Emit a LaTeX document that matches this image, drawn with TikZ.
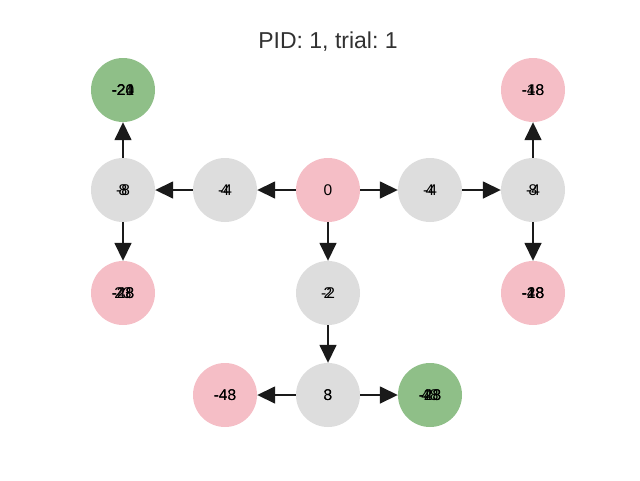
\documentclass[tikz,border=0pt]{standalone}
\usepackage{fontspec}
\setmainfont{Liberation Sans}
\usetikzlibrary{arrows.meta}
\definecolor{gn}{RGB}{143,191,136}
\definecolor{pk}{RGB}{245,190,198}
\definecolor{gy}{RGB}{221,221,221}
\definecolor{ink}{RGB}{26,26,26}
\frenchspacing
\tikzset{
  st/.style={circle,minimum size=64pt,inner sep=0pt,font=\fontsize{15.5}{16}\selectfont,text=black},
  gnode/.style={st,fill=gn},
  pnode/.style={st,fill=pk},
  ynode/.style={st,fill=gy},
  arr/.style={draw=ink,line width=1.6pt,-{Triangle[length=18pt,width=17pt]}}
}
% several labels printed on top of one another
\newcommand{\ovl}[1]{\ovlx#1,\relax}
\def\ovlx#1,#2\relax{\makebox[0pt]{#1}\ifx\relax#2\relax\else\ovlx#2\relax\fi}
\begin{document}
\begin{tikzpicture}[x=1pt,y=-1pt]
\useasboundingbox (0,0) rectangle (640,480);
\node[font=\fontsize{23}{25}\selectfont,text=ink!90] (title) at (328,42) {PID: 1, trial: 1};
\node[gnode] (tl) at (123,90) {\ovl{-20,-24,-21}};
\node[ynode] (m8) at (123,190) {\ovl{-8,8}};
\node[ynode] (m4) at (225,190) {\ovl{-4,4}};
\node[pnode] (z) at (328,190) {0};
\node[ynode] (p4) at (430,190) {\ovl{4,-4}};
\node[ynode] (r) at (533,190) {\ovl{-4,8}};
\node[pnode] (tr) at (533,90) {\ovl{-48,-18}};
\node[pnode] (bl) at (123,293) {\ovl{-28,-48,23}};
\node[ynode] (m2) at (328,293) {\ovl{-2,2}};
\node[pnode] (br) at (533,293) {\ovl{-48,-18,-28}};
\node[ynode] (e) at (328,395) {\ovl{8,3}};
\node[pnode] (el) at (225,395) {\ovl{-43,-48}};
\node[gnode] (er) at (430,395) {\ovl{-43,-28,48}};
% arrows
\draw[arr] (z) -- (p4);
\draw[arr] (p4) -- (r);
\draw[arr] (r) -- (tr);
\draw[arr] (r) -- (br);
\draw[arr] (z) -- (m4);
\draw[arr] (m4) -- (m8);
\draw[arr] (m8) -- (tl);
\draw[arr] (m8) -- (bl);
\draw[arr] (z) -- (m2);
\draw[arr] (m2) -- (e);
\draw[arr] (e) -- (el);
\draw[arr] (e) -- (er);
\end{tikzpicture}
\end{document}
